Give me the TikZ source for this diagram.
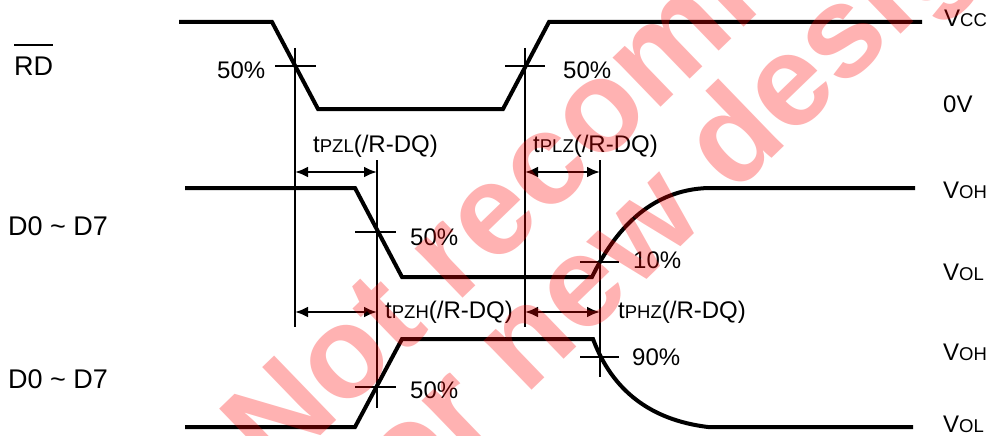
\documentclass[tikz,border=0pt]{standalone}
\usepackage{fontspec}
\setmainfont{Liberation Sans}
\usetikzlibrary{arrows.meta}
\tikzset{
    wave/.style = {line width=4pt, line join=miter},
    guide/.style = {line width=1.4pt},
    cross/.style = {line width=1.4pt},
    dim/.style = {line width=2.6pt, {Latex[length=13pt,width=11pt]}-{Latex[length=13pt,width=11pt]}},
    lbl/.style = {anchor=base west, inner sep=0pt, font=\fontsize{24}{28}\selectfont},
    sig/.style = {anchor=base west, inner sep=0pt, font=\fontsize{27}{32}\selectfont},
    stamp/.style = {anchor=base west, inner sep=0pt, rotate=44, text=red, text opacity=0.3,
        font=\fontsize{130}{130}\selectfont\bfseries}
}
\newcommand{\lo}[1]{{\fontsize{18.5}{20}\selectfont #1}}

\begin{document}
\begin{tikzpicture}[x=1pt, y=-1pt]
    \useasboundingbox (0,0) rectangle (990,436);
    % signal names
    \node [sig] (rd) at (14,75) {RD};
    \draw [line width=2pt] ([yshift=11pt]rd.north west) -- ([yshift=11pt]rd.north east);
    \node [sig] (busA) at (8,235) {D0 \textasciitilde{} D7};
    \node [sig] (busB) at (8,388) {D0 \textasciitilde{} D7};
    % levels
    \node [lbl] (vcc) at (944,27) {V\lo{CC}};
    \node [lbl] (zero) at (943,112) {0V};
    \node [lbl] (vohA) at (943,198) {V\lo{OH}};
    \node [lbl] (volA) at (943,280) {V\lo{OL}};
    \node [lbl] (vohB) at (943,360) {V\lo{OH}};
    \node [lbl] (volB) at (943,432) {V\lo{OL}};
    % waveforms
    \draw [wave] (179,22) -- (272,22) -- (318,109) -- (503,109) -- (549,22) -- (922,22);
    \draw [wave] (185,188) -- (355,188) -- (402,277) -- (592,277)
        .. controls (615,230) and (650,190) .. (708,188) -- (915,188);
    \draw [wave] (185,427) -- (355,427) -- (402,339) -- (593,339)
        .. controls (612,390) and (650,420) .. (708,427) -- (913,427);
    % guide lines
    \coordinate (gAt) at (295,48);  \coordinate (gAb) at (295,327);
    \coordinate (gBt) at (377,160); \coordinate (gBb) at (377,408);
    \coordinate (gCt) at (525,48);  \coordinate (gCb) at (525,327);
    \coordinate (gDt) at (600,160); \coordinate (gDb) at (600,377);
    \draw [guide] (gAt) -- (gAb);
    \draw [guide] (gBt) -- (gBb);
    \draw [guide] (gCt) -- (gCb);
    \draw [guide] (gDt) -- (gDb);
    % level marks
    \draw [cross] (275,66) -- (316,66);
    \draw [cross] (505,66) -- (545,66);
    \draw [cross] (355,232) -- (396,232);
    \draw [cross] (580,262) -- (619,262);
    \draw [cross] (355,387) -- (396,387);
    \draw [cross] (580,357) -- (619,357);
    \node [lbl] (pcA) at (217,78) {50\%};
    \node [lbl] (pcB) at (563,78) {50\%};
    \node [lbl] (pcC) at (410,245) {50\%};
    \node [lbl] (pcD) at (633,268) {10\%};
    \node [lbl] (pcE) at (410,398) {50\%};
    \node [lbl] (pcF) at (632,365) {90\%};
    % timing arrows
    \coordinate (pzlL) at (295,172); \coordinate (pzlR) at (377,172);
    \coordinate (plzL) at (525,172); \coordinate (plzR) at (600,172);
    \coordinate (pzhL) at (295,312); \coordinate (pzhR) at (377,312);
    \coordinate (phzL) at (525,312); \coordinate (phzR) at (600,312);
    \draw [dim] (pzlL) -- (pzlR);
    \draw [dim] (plzL) -- (plzR);
    \draw [dim] (pzhL) -- (pzhR);
    \draw [dim] (phzL) -- (phzR);
    \node [lbl] (tpzl) at (313,152) {t\lo{PZL}(/R-DQ)};
    \node [lbl] (tplz) at (533,152) {t\lo{PLZ}(/R-DQ)};
    \node [lbl] (tpzh) at (385,318) {t\lo{PZH}(/R-DQ)};
    \node [lbl] (tphz) at (618,318) {t\lo{PHZ}(/R-DQ)};
    % stamp
    \node [stamp] (nrA) at (275,480) {Not recommended};
    \node [stamp] (nrB) at (375,542) {for new designs};
\end{tikzpicture}
\end{document}
